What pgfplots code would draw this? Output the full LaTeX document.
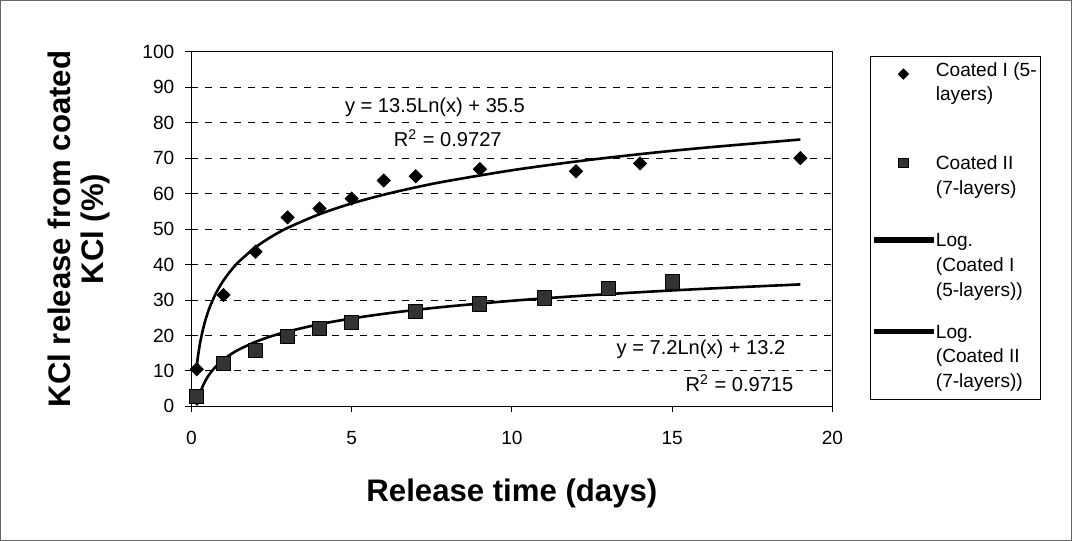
\documentclass[border=0pt]{standalone}
\usepackage{pgfplots}
\pgfplotsset{compat=1.18}
\usepackage{fontspec}
\setmainfont{Liberation Sans}

\pgfplotsset{
  lineleg/.style={legend image code/.code={\fill[black] (0pt,2.8pt) rectangle (28.5pt,4.2pt);}},
  markleg/.style 2 args={legend image code/.code={\draw[##1, mark size=#1] plot coordinates {(14pt,#2)};}},
}
% legend text: lines in a top-aligned tabular, extra depth below the last line
\newcommand{\legtxt}[2]{\begin{tabular}[t]{@{}l@{}}#2\rule[-#1]{0pt}{0pt}\end{tabular}}

\begin{document}
\begin{tikzpicture}
\begin{axis}[
  scale only axis,
  width=319pt, height=176.5pt,
  xmin=0, xmax=20, ymin=0, ymax=100,
  xtick={0,5,...,20}, ytick={0,10,...,100},
  tick align=outside, major tick length=3pt, tick pos=left,
  ymajorgrids,
  major grid style={black, dash pattern=on 3.5pt off 3.5pt, line width=0.5pt},
  axis line style={black, line width=0.6pt},
  tick style={black, line width=0.5pt},
  /pgf/number format/assume math mode=true,
  tick label style={font=\fontsize{9.5}{11}\selectfont},
  yticklabel style={xshift=-2pt},
  xticklabel style={yshift=-6pt},
  xlabel={Release time (days)},
  ylabel={KCl release from coated\\KCl (\%)},
  label style={font=\bfseries\fontsize{15.5}{16}\selectfont, align=center},
  x label style={at={(rel axis cs:0.5,-0.246)}, anchor=center},
  y label style={at={(rel axis cs:-0.1755,0.5)}, anchor=center},
  clip=false,
  reverse legend,
  legend style={at={(rel axis cs:1.058,0.989)}, anchor=north west,
    draw=black, line width=0.4pt, font=\fontsize{9.5}{12.25}\selectfont,
    nodes={inner sep=0pt, text depth=, text height=},
    cells={anchor=base west},
    inner xsep=2pt, inner ysep=1.4pt, row sep=0pt, column sep=1pt},
]
% logarithmic trend lines
\addplot[black, line width=1.3pt, smooth, lineleg] coordinates {
  (0.167,0.31) (0.2,1.61) (0.25,3.22) (0.3,4.53) (0.4,6.60) (0.5,8.21)
  (0.6,9.52) (0.75,11.13) (0.9,12.44) (1,13.2) (1.25,14.81) (1.5,16.12)
  (2,18.19) (2.5,19.80) (3,21.11) (4,23.18) (5,24.79) (6,26.10) (7,27.21)
  (8,28.17) (10,29.78) (12,31.09) (14,32.20) (16,33.16) (19,34.40)
};
\addlegendentry{\legtxt{4.6pt}{Log.\\(Coated II\\(7-layers))}}
\addplot[black, line width=1.3pt, smooth, lineleg] coordinates {
  (0.167,11.34) (0.2,13.77) (0.25,16.79) (0.3,19.25) (0.4,23.13) (0.5,26.14)
  (0.6,28.60) (0.75,31.62) (0.9,34.08) (1,35.5) (1.25,38.51) (1.5,40.97)
  (2,44.86) (2.5,47.87) (3,50.33) (4,54.21) (5,57.23) (6,59.69) (7,61.77)
  (8,63.57) (10,66.58) (12,69.05) (14,71.13) (16,72.93) (19,75.25)
};
\addlegendentry{\legtxt{12.4pt}{Log.\\(Coated I\\(5-layers))}}
% measured points
\addplot[only marks, mark=square*, mark size=3.5pt,
  mark options={draw=black, fill=black!80}, markleg={2.4pt}{3.4pt}] coordinates {
  (0.167,2.8) (1,12.2) (2,15.9) (3,19.8) (4,22.1) (5,23.8)
  (7,26.9) (9,28.9) (11,30.6) (13,33.4) (15,35.1)
};
\addlegendentry{\legtxt{17.7pt}{Coated II\\(7-layers)}}
\addplot[only marks, mark=square*, mark size=2.3pt,
  mark options={rotate=45, draw=black, fill=black}, markleg={1.8pt}{1pt}] coordinates {
  (0.167,10.5) (1,31.4) (2,43.6) (3,53.3) (4,55.8) (5,58.6)
  (6,63.7) (7,64.9) (9,66.9) (12,66.3) (14,68.5) (19,70)
};
\addlegendentry{\legtxt{25.7pt}{Coated I (5-\\layers)}}

\node[font=\fontsize{10}{12}\selectfont] at (axis cs:7.6,84.4) {y = 13.5Ln(x) + 35.5};
\node[font=\fontsize{10}{12}\selectfont] at (axis cs:8.0,75.6) {R\textsuperscript{2} = 0.9727};
\node[font=\fontsize{10}{12}\selectfont] at (axis cs:15.9,16.2) {y = 7.2Ln(x) + 13.2};
\node[font=\fontsize{10}{12}\selectfont] at (axis cs:17.1,6.6) {R\textsuperscript{2} = 0.9715};

\draw[black!60, line width=0.5pt] (rel axis cs:-0.2978,-0.3768) rectangle (rel axis cs:1.373,1.1445);
\end{axis}
\end{tikzpicture}
\end{document}
